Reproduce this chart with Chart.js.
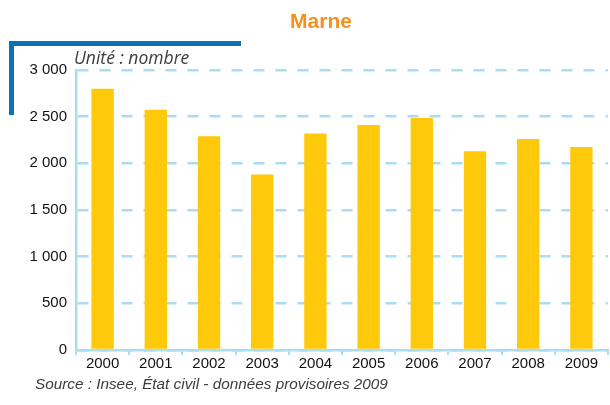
<!DOCTYPE html>
<html>
<head>
<meta charset="utf-8">
<script src="https://cdn.jsdelivr.net/npm/chart.js@4"></script>
<style>
  html, body { margin: 0; padding: 0; background: #fff; }
  #wrap { width: 610px; height: 405px; position: relative; }
</style>
</head>
<body>
<div id="wrap"><canvas id="Graph_Marne" width="610" height="405"></canvas></div>
<script>
var years = ["2000", "2001", "2002", "2003", "2004", "2005", "2006", "2007", "2008", "2009"];
var births = [2800, 2575, 2290, 1880, 2320, 2410, 2485, 2130, 2260, 2175];
var yTicks = [0, 500, 1000, 1500, 2000, 2500, 3000];

var titleText = "Marne";
var unitText = "Unité : nombre";
var sourceText = "Source : Insee, État civil - données provisoires 2009";

var narrow = "'Liberation Sans Narrow', 'Liberation Sans', Arial, sans-serif";
var lightBlue = "#a9ddf6";

// blue bracket + texts drawn straight on the canvas
var decor = {
    id: "decor",
    afterDraw: function (chart) {
        var ctx = chart.ctx;
        ctx.save();
        ctx.fillStyle = "#0b72b8";
        ctx.fillRect(9, 41, 232, 5);
        ctx.fillRect(9, 41, 5, 74);

        ctx.fillStyle = "#f5901e";
        ctx.font = "bold 21px " + narrow;
        ctx.textAlign = "center";
        ctx.textBaseline = "middle";
        ctx.fillText(titleText, 321, 22);

        ctx.fillStyle = "#3c3c3c";
        ctx.font = "italic 17.5px 'Open Sans', sans-serif";
        ctx.textAlign = "left";
        ctx.fillText(unitText, 74, 59);

        ctx.font = "italic 15.3px " + narrow;
        ctx.fillText(sourceText, 35, 385);
        ctx.restore();
    }
};

var ctx = document.getElementById("Graph_Marne").getContext("2d");
var graph = new Chart(ctx, {
    type: "bar",
    data: {
        labels: years,
        datasets: [{
            data: births,
            backgroundColor: "#fec90b",
            borderWidth: 0,
            barPercentage: 0.42,
            categoryPercentage: 1
        }]
    },
    options: {
        responsive: false,
        animation: false,
        layout: { padding: { top: 70, right: 2, bottom: 30, left: 0 } },
        plugins: {
            legend: { display: false },
            tooltip: { enabled: false }
        },
        scales: {
            x: {
                grid: {
                    drawOnChartArea: false,
                    drawTicks: true,
                    tickLength: 5,
                    color: lightBlue,
                    lineWidth: 2
                },
                border: { color: lightBlue, width: 2.5 },
                ticks: {
                    color: "#111",
                    font: { family: narrow, size: 15 },
                    padding: 0
                },
                afterFit: function (scale) { scale.height = 25; }
            },
            y: {
                min: 0,
                max: 3000,
                afterBuildTicks: function (scale) {
                    scale.ticks = yTicks.map(function (v) { return { value: v }; });
                },
                grid: {
                    color: lightBlue,
                    lineWidth: 2.5,
                    drawTicks: false
                },
                border: { color: lightBlue, width: 2.5, dash: [11, 11] },
                ticks: {
                    color: "#111",
                    font: { family: narrow, size: 15 },
                    padding: 9,
                    callback: function (v) {
                        return String(v).replace(/\B(?=(\d{3})+(?!\d))/g, " ");
                    }
                },
                afterFit: function (scale) { scale.width = 76; }
            }
        }
    },
    plugins: [decor]
});
</script>
</body>
</html>
